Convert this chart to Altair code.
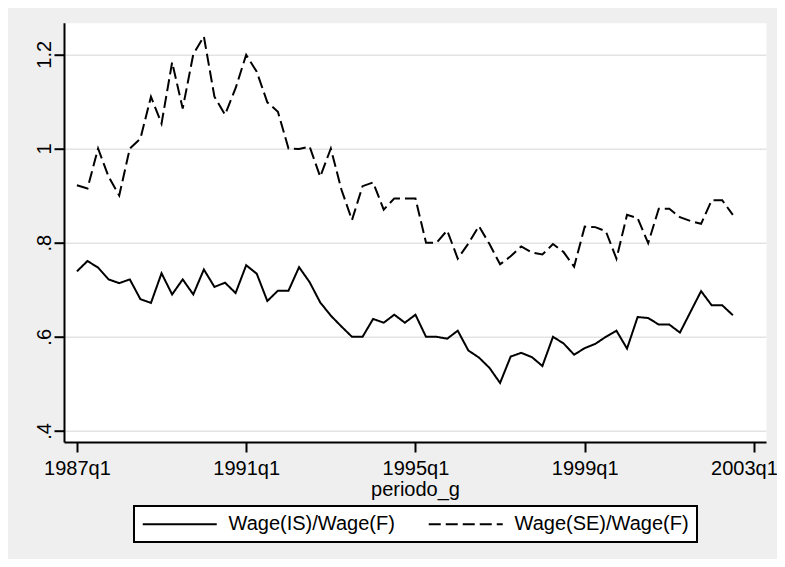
import altair as alt
import pandas as pd

start_year = 1987

is_values = [
    0.739, 0.761, 0.747, 0.722, 0.714, 0.722, 0.680, 0.672, 0.735, 0.690,
    0.722, 0.690, 0.743, 0.706, 0.715, 0.693, 0.752, 0.734, 0.676, 0.698,
    0.698, 0.748, 0.716, 0.673, 0.645, 0.622, 0.600, 0.600, 0.638, 0.630,
    0.647, 0.630, 0.647, 0.600, 0.600, 0.596, 0.613, 0.571, 0.556, 0.534,
    0.502, 0.558, 0.566, 0.557, 0.538, 0.600, 0.586, 0.562, 0.576, 0.585,
    0.600, 0.613, 0.575, 0.642, 0.640, 0.626, 0.626, 0.609, 0.653, 0.697,
    0.667, 0.667, 0.646,
]

se_values = [
    0.922, 0.915, 1.000, 0.940, 0.900, 1.000, 1.021, 1.110, 1.053, 1.183,
    1.085, 1.200, 1.238, 1.110, 1.072, 1.128, 1.199, 1.163, 1.098, 1.078,
    1.000, 0.999, 1.004, 0.940, 1.000, 0.913, 0.848, 0.920, 0.928, 0.870,
    0.894, 0.894, 0.894, 0.800, 0.800, 0.826, 0.766, 0.798, 0.835, 0.797,
    0.754, 0.771, 0.792, 0.779, 0.775, 0.797, 0.780, 0.749, 0.834, 0.833,
    0.824, 0.766, 0.859, 0.852, 0.799, 0.872, 0.872, 0.854, 0.846, 0.840,
    0.890, 0.890, 0.859,
]

series_names = ["Wage(IS)/Wage(F)", "Wage(SE)/Wage(F)"]
x_ticks = [1987, 1991, 1995, 1999, 2003]
x_tick_labels = ["1987q1", "1991q1", "1995q1", "1999q1", "2003q1"]
y_ticks = [0.4, 0.6, 0.8, 1.0, 1.2]
y_tick_labels = [".4", ".6", ".8", "1", "1.2"]

rows = []
for name, vals in zip(series_names, [is_values, se_values]):
    for i, v in enumerate(vals):
        rows.append({
            "t": start_year + i / 4,
            "periodo_g": f"{start_year + i // 4}q{i % 4 + 1}",
            "value": v,
            "series": name,
        })
df = pd.DataFrame(rows)


def label_expr(vals, labels):
    expr = "''"
    for v, l in reversed(list(zip(vals, labels))):
        expr = f"abs(datum.value - {v}) < 1e-6 ? '{l}' : ({expr})"
    return expr


FONT = "Liberation Sans"

chart = alt.Chart(df).mark_line(strokeWidth=2, color="black").encode(
    x=alt.X(
        "t:Q",
        scale=alt.Scale(domain=[1986.695, 2003.284], nice=False, zero=False),
        axis=alt.Axis(
            values=x_ticks,
            labelExpr=label_expr(x_ticks, x_tick_labels),
            title="periodo_g",
            grid=False,
            labelBaseline="alphabetic",
            labelPadding=22.5,
            labelFlush=False,
            labelOverlap=False,
            labelOffset={"condition": {"test": f"datum.value == {x_ticks[-1]}", "value": -10}, "value": 0},
            titleX=351,
            titleY=53.5,
            titleBaseline="alphabetic",
            titleAlign="center",
        ),
    ),
    y=alt.Y(
        "value:Q",
        scale=alt.Scale(domain=[0.3766, 1.2672], nice=False, zero=False),
        axis=alt.Axis(
            values=y_ticks,
            labelExpr=label_expr(y_ticks, y_tick_labels),
            title=None,
            grid=True,
            labelAngle=270,
            labelAlign="center",
            labelBaseline="alphabetic",
            labelPadding=3.5,
        ),
    ),
    strokeDash=alt.StrokeDash(
        "series:N",
        scale=alt.Scale(domain=series_names, range=[[1, 0], [12, 5]]),
        legend=alt.Legend(
            orient="none",
            legendX=70,
            legendY=483.3,
            direction="horizontal",
            title=None,
            symbolType="M-1,0H7",
            symbolSize=342.25,
            symbolStrokeWidth=2,
            symbolStrokeColor="black",
            labelFont=FONT,
            labelFontSize=20,
            labelColor="black",
            labelOffset=66,
            labelLimit=400,
            columnPadding=29,
            padding=7.5,
            strokeColor="black",
            fillColor="white",
            cornerRadius=0,
        ),
    ),
).properties(
    width=702,
    height=419.3,
    autosize=alt.AutoSizeParams(type="none"),
    padding={"left": 56, "top": 14.7, "right": 11, "bottom": 117},
    background="#EFEFEF",
).configure_view(
    fill="white",
    stroke="transparent",
).configure_axis(
    domainColor="black",
    domainWidth=2,
    tickColor="black",
    tickWidth=2,
    tickSize=10,
    labelFont=FONT,
    labelFontSize=20,
    labelColor="black",
    gridColor="#E3E3E3",
    gridWidth=1.5,
    titleFont=FONT,
    titleFontSize=20,
    titleFontWeight="normal",
    titleColor="black",
).configure_legend(
    strokeWidth=2,
)

chart.save("out.html", embed_options={"renderer": "svg", "actions": False})
